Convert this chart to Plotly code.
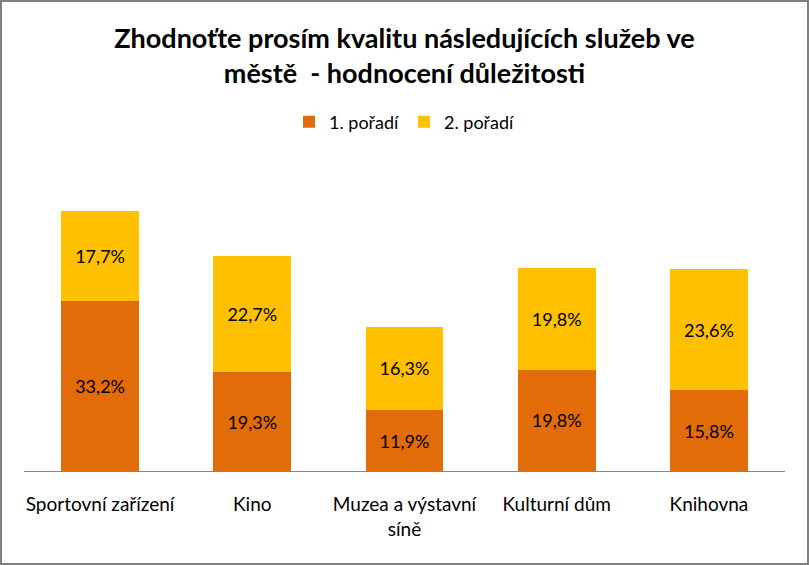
import plotly.graph_objects as go

categories = ["Sportovní zařízení", "Kino", "Muzea a výstavní<br>síně", "Kulturní dům", "Knihovna"]
series_names = ["1. pořadí", "2. pořadí"]
first_rank = [33.2, 19.3, 11.9, 19.8, 15.8]
second_rank = [17.7, 22.7, 16.3, 19.8, 23.6]
colors = ["#E36C0A", "#FFC000"]

def fmt(v):
    return f"{v:.1f}".replace(".", ",") + "%"

fig = go.Figure()
for name, vals, col in zip(series_names, [first_rank, second_rank], colors):
    fig.add_trace(go.Bar(
        x=categories, y=vals, name=name, marker_color=col,
        marker_line_width=0,
        text=[fmt(v) for v in vals], textposition="inside", insidetextanchor="middle",
        textangle=0, constraintext="none",
        textfont=dict(family="Lato, sans-serif", size=18, color="#000000"),
        hoverinfo="skip",
    ))

fig.update_layout(
    barmode="stack", bargap=0.49,
    width=809, height=565,
    margin=dict(l=24, r=24, t=164, b=94),
    paper_bgcolor="white", plot_bgcolor="white",
    title=dict(text="<b>Zhodnoťte prosím kvalitu následujících služeb ve<br>městě  - hodnocení důležitosti</b>",
               x=0.5, xanchor="center", y=1 - 48/565, yanchor="middle",
               font=dict(family="Lato, sans-serif", size=27, color="#000000")),
    legend=dict(orientation="h", x=0.5, xanchor="center", y=1 + 42/307, yanchor="middle",
                font=dict(family="Lato, sans-serif", size=18, color="#000000"),
                traceorder="normal", itemwidth=30),
    showlegend=True,
)
fig.update_xaxes(showline=True, linecolor="#868686", linewidth=1, showgrid=False,
                 ticks="", ticklabelstandoff=16,
                 tickfont=dict(family="Lato, sans-serif", size=19, color="#000000"))
fig.update_yaxes(range=[0, 60], visible=False, showgrid=False)

fig.add_shape(type="rect", xref="paper", yref="paper",
              x0=-23/761, x1=1 + 23/761, y0=-93/307, y1=1 + 163/307,
              line=dict(color="#7f7f7f", width=2), fillcolor="rgba(0,0,0,0)", layer="above")

fig.write_html("out.html", config={"displayModeBar": False},
               post_script="document.body.style.margin='0';document.body.style.overflow='hidden';")
